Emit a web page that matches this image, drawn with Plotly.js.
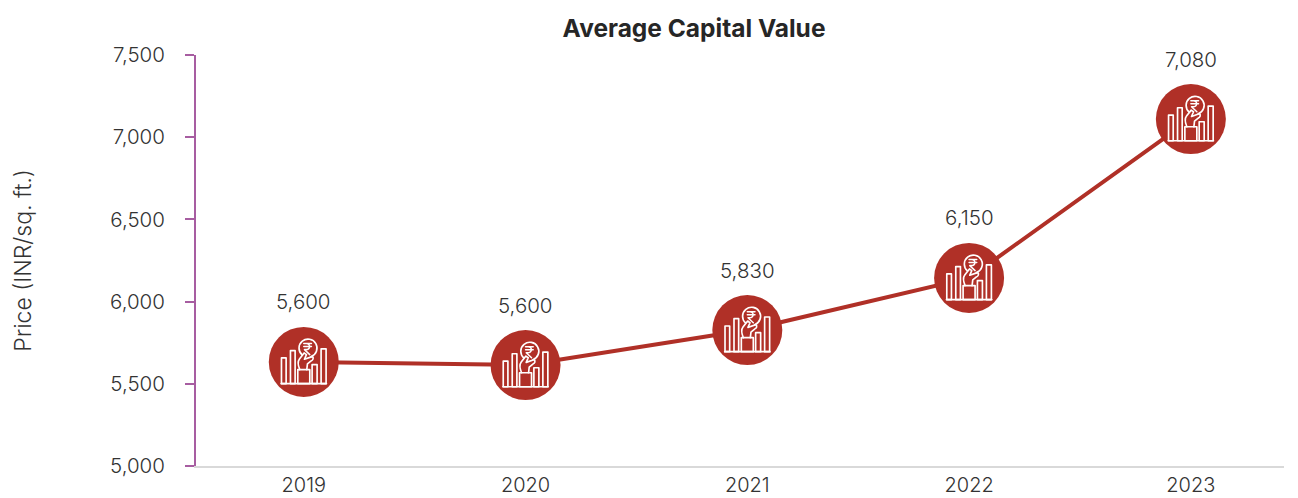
<!DOCTYPE html>
<html>
<head>
<meta charset="utf-8">
<script src="https://cdn.plot.ly/plotly-3.0.1.min.js"></script>
<style>html,body{margin:0;padding:0;background:#fff}#chart{width:1298px;height:498px}</style>
</head>
<body>
<div id="chart"></div>
<script>
const years = ['2019','2020','2021','2022','2023'];
const plottedValues = [5633, 5614, 5827, 6144, 7110];
const valueLabels = ['5,600','5,600','5,830','6,150','7,080'];
const yTickValues = [5000,5500,6000,6500,7000,7500];
const yTickLabels = ['5,000','5,500','6,000','6,500','7,000','7,500'];

const RED = '#B03027';
const TEXT = '#333333';
const FONT = 'Inter, "Open Sans", sans-serif';

const iconSvg =
`<svg xmlns="http://www.w3.org/2000/svg" viewBox="60 48 210 210" width="210" height="210">
<g fill="none" stroke="#fff" stroke-width="5" stroke-linejoin="round" stroke-linecap="round">
<path d="M97 218H233"/>
<rect x="98" y="141" width="14" height="77"/>
<rect x="125" y="119" width="14" height="99"/>
<rect x="190" y="161" width="15" height="57"/>
<rect x="217" y="114" width="15" height="104"/>
<rect x="147" y="176" width="36" height="42"/>
<path d="M160 132A27 27 0 1 1 187 137"/>
<path d="M153 176C147 162 146 152 152 144L166 126L173 131L167 145L190 137C196 140 193 148 187 150L176 159L174 176"/>
<path d="M165 98H188M165 107H188M173 98C186 98 186 116 171 116H167L183 131" stroke-width="4.5"/>
</g></svg>`;
const iconUri = 'data:image/svg+xml;charset=utf-8,' + encodeURIComponent(iconSvg);

const data = [{
  type: 'scatter',
  mode: 'lines+markers',
  x: years,
  y: plottedValues,
  line: {color: RED, width: 4},
  marker: {color: RED, size: 70, line: {width: 0}},
  hoverinfo: 'x+y',
  showlegend: false,
  cliponaxis: false
}];

const layout = {
  width: 1298, height: 498,
  paper_bgcolor: '#fff', plot_bgcolor: '#fff',
  margin: {l: 196, r: 14, t: 55, b: 32},
  font: {family: FONT, color: TEXT, size: 20.5, weight: 300},
  title: {text: 'Average Capital Value', font: {family: FONT, size: 24.5, color: '#262626', weight: 700},
          x: 694/1298, xref: 'container', xanchor: 'center', y: 0.942, yanchor: 'middle'},
  xaxis: {
    type: 'category', categoryorder: 'array', categoryarray: years,
    range: [-0.486, 4.42], showgrid: false, zeroline: false,
    showline: true, linecolor: '#d9d9d9', linewidth: 2,
    ticks: '', ticklabelstandoff: 0, tickfont: {family: FONT, size: 20, color: TEXT, weight: 300}, automargin: false
  },
  yaxis: {
    range: [5000, 7500], tickvals: yTickValues, ticktext: yTickLabels,
    showgrid: false, zeroline: false, showline: true, linecolor: '#A75DA1', linewidth: 2,
    ticks: 'outside', ticklen: 9, tickwidth: 2, tickcolor: '#A75DA1', ticklabelstandoff: 16,
    tickfont: {family: FONT, size: 20.5, color: TEXT, weight: 300}, automargin: false,
    title: {text: 'Price (INR/sq. ft.)', font: {family: FONT, size: 23, color: TEXT, weight: 300}, standoff: 72}
  },
  annotations: years.map((yr, i) => ({
    x: i, y: plottedValues[i], xref: 'x', yref: 'y',
    text: valueLabels[i], showarrow: false, yshift: 60,
    font: {family: FONT, size: 20.5, color: TEXT, weight: 300}
  })),
  images: years.map((yr, i) => ({
    source: iconUri, xref: 'x', yref: 'y', x: i, y: plottedValues[i],
    sizex: 70/222, sizey: 70/411*2500, xanchor: 'center', yanchor: 'middle',
    sizing: 'stretch', layer: 'above'
  }))
};
Plotly.newPlot('chart', data, layout, {displayModeBar: false, staticPlot: true});
</script>
</body>
</html>
